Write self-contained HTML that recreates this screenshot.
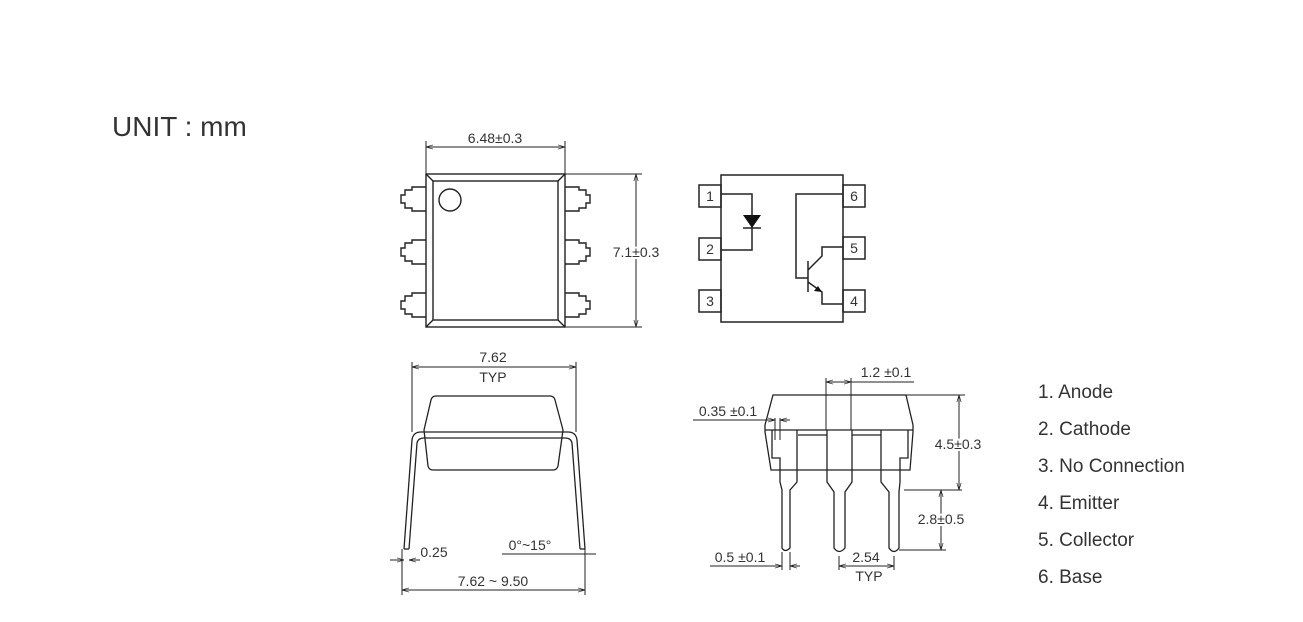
<!DOCTYPE html>
<html><head><meta charset="utf-8"><style>
html,body{margin:0;padding:0;background:#fff;}
svg{display:block;}
text{font-family:"Liberation Sans",sans-serif;}
</style></head><body>
<svg width="1303" height="622" viewBox="0 0 1303 622" xmlns="http://www.w3.org/2000/svg">
<defs>
<marker id="a" viewBox="0 0 10 10" refX="10" refY="5" markerWidth="7" markerHeight="7" orient="auto-start-reverse"><path d="M0,2 L10,5 L0,8" fill="none" stroke="#222" stroke-width="1"/></marker>
</defs>
<text x="112" y="136" font-size="28" fill="#333">UNIT : mm</text>

<g stroke="#222" stroke-width="1.4" fill="none">
<rect x="426" y="174" width="139" height="153"/>
<rect x="433" y="181" width="125" height="139"/>
<line x1="426" y1="174" x2="433" y2="181"/><line x1="565" y1="174" x2="558" y2="181"/>
<line x1="426" y1="327" x2="433" y2="320"/><line x1="565" y1="327" x2="558" y2="320"/>
<circle cx="450" cy="200" r="11"/>
<g id="lp"><path d="M426,187 H412 V190 H405 V195 H401 V203 H405 V208 H412 V211 H426"/></g>
<use href="#lp" transform="translate(0,53)"/><use href="#lp" transform="translate(0,106)"/>
<g id="rp"><path d="M565,187 H579 V190 H586 V195 H590 V203 H586 V208 H579 V211 H565"/></g>
<use href="#rp" transform="translate(0,53)"/><use href="#rp" transform="translate(0,106)"/>
</g>
<g stroke="#222" stroke-width="1" fill="none">
<line x1="426" y1="141" x2="426" y2="174"/><line x1="565" y1="141" x2="565" y2="174"/>
<line x1="426" y1="147" x2="565" y2="147" marker-start="url(#a)" marker-end="url(#a)"/>
<line x1="565" y1="174" x2="642" y2="174"/><line x1="565" y1="327" x2="642" y2="327"/>
<line x1="636" y1="174" x2="636" y2="327" marker-start="url(#a)" marker-end="url(#a)"/>
</g>
<text x="495" y="143" font-size="14" text-anchor="middle" fill="#333">6.48±0.3</text>
<text x="636" y="257" font-size="14" text-anchor="middle" fill="#333" stroke="#fff" stroke-width="4" paint-order="stroke">7.1±0.3</text>

<g stroke="#222" stroke-width="1.5" fill="none">
<rect x="721" y="175" width="122" height="147"/>
<rect x="699" y="185" width="22" height="22"/><rect x="699" y="238" width="22" height="22"/><rect x="699" y="290" width="22" height="22"/>
<rect x="843" y="185" width="22" height="22"/><rect x="843" y="237" width="22" height="22"/><rect x="843" y="290" width="22" height="22"/>
<path d="M721,194 H752 V250 H721"/>
<line x1="743" y1="228" x2="761" y2="228"/>
<path d="M843,194 H796 V278 H808"/>
<line x1="808" y1="261" x2="808" y2="292"/>
<path d="M808,270 L822,256 V247 H843"/>
<path d="M808,282 L822,292 V304 H843"/>
</g>
<polygon points="743,215 761,215 752,228" fill="#111"/>
<polygon points="822,292 814,291 818,286" fill="#111"/>
<g font-size="14" fill="#333" text-anchor="middle">
<text x="710" y="201">1</text><text x="710" y="254">2</text><text x="710" y="306">3</text>
<text x="854" y="201">6</text><text x="854" y="253">5</text><text x="854" y="306">4</text>
</g>

<g stroke="#222" stroke-width="1.3" fill="none">
<path d="M436,396 H550 Q554,396 555,400 L563,430 L558,466 Q557,470 553,470 H433 Q429,470 428,466 L424,430 L431,400 Q432,396 436,396 Z"/>
<path d="M404,549 L412,440 Q413,432 421,432 H568 Q576,432 577,440 L585,549"/>
<path d="M409,549 L417,443 Q418,438 424,438 H565 Q571,438 572,443 L580,549"/>
<line x1="404" y1="549" x2="409" y2="549"/><line x1="580" y1="549" x2="585" y2="549"/>
</g>
<g stroke="#222" stroke-width="1" fill="none">
<line x1="412" y1="362" x2="412" y2="432"/><line x1="576" y1="362" x2="576" y2="432"/>
<line x1="412" y1="367" x2="576" y2="367" marker-start="url(#a)" marker-end="url(#a)"/>
<line x1="402" y1="549" x2="402" y2="595"/><line x1="585" y1="549" x2="585" y2="595"/>
<line x1="402" y1="590" x2="585" y2="590" marker-start="url(#a)" marker-end="url(#a)"/>
<line x1="390" y1="560" x2="404" y2="560" marker-end="url(#a)"/><line x1="420" y1="560" x2="409" y2="560" marker-end="url(#a)"/>
<line x1="502" y1="554" x2="596" y2="554"/>
</g>
<g font-size="14" fill="#333" text-anchor="middle">
<text x="493" y="362">7.62</text><text x="493" y="382">TYP</text>
<text x="434" y="557">0.25</text><text x="530" y="550">0°~15°</text>
<text x="493" y="586">7.62  ~  9.50</text>
</g>

<g stroke="#222" stroke-width="1.3" fill="none">
<path d="M773,395 H906 L913,425 V432 L910,470 H771 L765,432 V425 Z"/>
<line x1="765" y1="430" x2="913" y2="430"/>
<line x1="798" y1="435" x2="827" y2="435"/><line x1="852" y1="435" x2="881" y2="435"/>
<path d="M772,430 V458 H780 V482 L782,490 V548 Q785,553 790,548 V490 L797,482 V430"/>
<path d="M827,430 V482 L834,492 V548 Q839,555 845,548 V492 L852,482 V430"/>
<path d="M881,430 V482 L889,492 V548 Q894,555 899,548 V492 L900,482 V458 H908 V430"/>
</g>
<g stroke="#222" stroke-width="1" fill="none">
<line x1="826" y1="378" x2="826" y2="430"/><line x1="851" y1="378" x2="851" y2="430"/>
<line x1="826" y1="382" x2="851" y2="382" marker-start="url(#a)" marker-end="url(#a)"/>
<line x1="851" y1="382" x2="914" y2="382"/>
<line x1="693" y1="420" x2="775" y2="420" marker-end="url(#a)"/><line x1="790" y1="420" x2="780" y2="420" marker-end="url(#a)"/>
<line x1="775" y1="418" x2="775" y2="440"/><line x1="780" y1="418" x2="780" y2="440"/>
<line x1="906" y1="395" x2="965" y2="395"/>
<line x1="959" y1="395" x2="959" y2="490" marker-start="url(#a)" marker-end="url(#a)"/>
<line x1="904" y1="490" x2="962" y2="490"/>
<line x1="941" y1="490" x2="941" y2="550" marker-start="url(#a)" marker-end="url(#a)"/>
<line x1="899" y1="550" x2="946" y2="550"/>
<line x1="710" y1="566" x2="782" y2="566" marker-end="url(#a)"/><line x1="800" y1="566" x2="790" y2="566" marker-end="url(#a)"/>
<line x1="782" y1="552" x2="782" y2="570"/><line x1="790" y1="552" x2="790" y2="570"/>
<line x1="839" y1="556" x2="839" y2="570"/><line x1="894" y1="556" x2="894" y2="570"/>
<line x1="839" y1="566" x2="894" y2="566" marker-start="url(#a)" marker-end="url(#a)"/>
</g>
<g font-size="14" fill="#333" text-anchor="middle">
<text x="886" y="377">1.2 ±0.1</text>
<text x="728" y="416">0.35 ±0.1</text>
<text x="958" y="449" stroke="#fff" stroke-width="4" paint-order="stroke">4.5±0.3</text>
<text x="941" y="524" stroke="#fff" stroke-width="4" paint-order="stroke">2.8±0.5</text>
<text x="740" y="562">0.5 ±0.1</text>
<text x="866" y="562">2.54</text><text x="869" y="581">TYP</text>
</g>

<g font-size="19" fill="#333">
<text x="1038" y="398">1. Anode</text>
<text x="1038" y="435">2. Cathode</text>
<text x="1038" y="472">3. No Connection</text>
<text x="1038" y="509">4. Emitter</text>
<text x="1038" y="546">5. Collector</text>
<text x="1038" y="583">6. Base</text>
</g>
</svg>
</body></html>
